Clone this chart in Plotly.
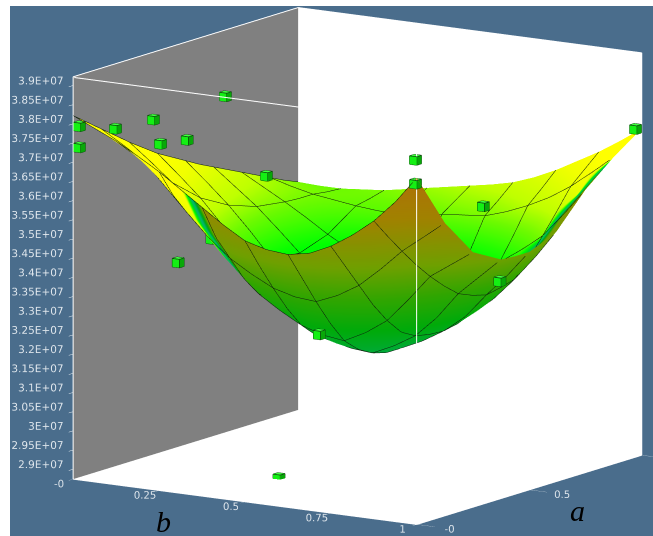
import plotly.graph_objects as go

a_values = [i / 16 for i in range(17)]
b_values = [j / 16 for j in range(17)]
Z_FLOOR = 2.874
Z_CEIL = 3.9225
Z_UNIT = 0.0025953
# surface rise above the floor of the z axis, in units of Z_UNIT (x 1E+07); rows = a, columns = b
surface_rise = [
 [365,355,345,333,320,305,290,275,262,256,254,258,268,282,299,321,348],
 [354,342,330,316,292,272,255,242,233,228,226,232,244,260,279,299,321],
 [343,330,316,293,270,248,230,217,206,200,198,207,220,239,260,277,294],
 [332,317,301,275,250,226,205,191,181,174,172,182,196,218,242,259,275],
 [321,304,286,264,233,208,186,172,160,153,150,161,176,200,226,241,256],
 [311,293,274,250,225,199,175,159,146,140,137,147,160,185,212,230,248],
 [301,282,262,238,212,186,166,150,136,131,129,139,152,173,200,220,240],
 [293,274,254,230,204,178,160,145,131,127,125,136,149,168,194,216,239],
 [285,266,246,223,198,173,155,141,129,126,125,135,148,165,190,213,239],
 [277,259,241,219,196,173,155,143,133,131,133,139,151,168,193,218,245],
 [270,253,236,216,195,174,155,145,140,138,140,146,157,174,197,223,252],
 [263,248,234,217,200,182,167,157,151,151,154,163,175,193,213,240,268],
 [256,244,232,219,205,193,183,176,172,174,178,188,200,215,232,257,284],
 [249,240,231,223,215,208,201,199,198,200,203,212,223,236,252,273,296],
 [242,236,231,228,225,223,222,224,228,230,232,239,248,259,273,290,308],
 [235,232,229,229,228,229,231,234,238,241,244,252,261,273,286,301,318],
 [229,228,228,230,232,236,240,244,248,252,257,265,275,287,299,313,328],
]
surface_z = [[Z_FLOOR + v * Z_UNIT for v in row] for row in surface_rise]
# how many leading b columns of every a row are seen from above
front_counts = [6,6,6,6,6,7,8,9,10,11,13,14,15,16,17,17,17]
Z_MID = 3.1
surface_tone = [[(z - Z_MID) if j < front_counts[i] else -(z - Z_MID) for j, z in enumerate(row)]
                for i, row in enumerate(surface_z)]

pt_a = [0.011,0.011,0.011,0.34,0.011,0.49,0.66,0.45,0.5,0.011,0.011,0.85,0.386,0.011,0.281,0.989,0.6]
pt_b = [0.011,0.011,0.116,0.011,0.247,0.011,0.011,0.011,0.235,0.989,0.989,0.637,0.989,0.709,0.415,0.989,0.011]
pt_z = [3.793,3.738,3.799,3.751,3.775,3.671,3.754,3.359,3.602,3.821,3.759,3.507,3.437,3.333,2.875,3.725,3.393]

z_ticks = [2.9 + 0.05 * i for i in range(21)]
z_labels = ["2.9E+07","2.95E+07","3E+07","3.05E+07","3.1E+07","3.15E+07","3.2E+07","3.25E+07","3.3E+07","3.35E+07","3.4E+07","3.45E+07","3.5E+07","3.55E+07","3.6E+07","3.65E+07","3.7E+07","3.75E+07","3.8E+07","3.85E+07","3.9E+07"]
b_ticks = [0, 0.25, 0.5, 0.75, 1]
b_labels = ["-0", "0.25", "0.5", "0.75", "1"]
a_ticks = [0, 0.5, 1]
a_labels = ["-0", "0.5", "1"]

BG = "#4a6d8c"
tone_scale = [
 [-0.73, "#b4690a"], [-0.55, "#a08200"], [-0.40, "#6ea000"], [-0.30, "#32a500"], [-0.20, "#00aa0a"], [-0.10, "#00aa3c"],
 [0, "#00b46e"], [0.1, "#00be5a"], [0.2, "#00dc14"], [0.29, "#00ff00"], [0.37, "#6efa00"], [0.42, "#beff00"],
 [0.50, "#f0ff00"], [0.55, "#ffff00"], [0.73, "#ffff00"],
]
lo, hi = -0.73, 0.73
colorscale = [[(v - lo) / (hi - lo), c] for v, c in tone_scale]
LINE = "#0d1f0d"
FLAT = dict(ambient=1, diffuse=0, specular=0, roughness=1, fresnel=0)

fig = go.Figure()
fig.add_trace(go.Surface(
    x=b_values, y=a_values, z=surface_z, surfacecolor=surface_tone,
    colorscale=colorscale, cmin=lo, cmax=hi, showscale=False, lighting=FLAT,
    contours=dict(
        x=dict(show=True, start=0, end=1, size=0.125, color=LINE, width=1),
        y=dict(show=True, start=0, end=1, size=0.125, color=LINE, width=1),
    ),
))

ZR = Z_CEIL - Z_FLOOR
hx, hy, hz = 0.0105, 0.0105, 0.0105 * ZR
vx, vy, vz, fi, fj, fk, fc, ex, ey, ez = [], [], [], [], [], [], [], [], [], []
corner = [(-1,-1,-1),(1,-1,-1),(1,1,-1),(-1,1,-1),(-1,-1,1),(1,-1,1),(1,1,1),(-1,1,1)]
quads = [((0,1,5,4),"#14f014"),((1,2,6,5),"#08a808"),((4,5,6,7),"#40ff40"),((0,3,7,4),"#08a808"),((3,2,6,7),"#08a808"),((0,1,2,3),"#08a808")]
edges = [(0,1),(1,2),(2,3),(3,0),(4,5),(5,6),(6,7),(7,4),(0,4),(1,5),(2,6),(3,7)]
for pa, pb, pz in zip(pt_a, pt_b, pt_z):
    n = len(vx)
    pts = [(pb + sx * hx, pa + sy * hy, pz + sz * hz) for sx, sy, sz in corner]
    for p in pts:
        vx.append(p[0]); vy.append(p[1]); vz.append(p[2])
    for (q0, q1, q2, q3), col in quads:
        fi += [n + q0, n + q0]; fj += [n + q1, n + q2]; fk += [n + q2, n + q3]; fc += [col, col]
    for e0, e1 in edges:
        for idx in (e0, e1):
            ex.append(pts[idx][0]); ey.append(pts[idx][1]); ez.append(pts[idx][2])
        ex.append(None); ey.append(None); ez.append(None)
fig.add_trace(go.Mesh3d(x=vx, y=vy, z=vz, i=fi, j=fj, k=fk, facecolor=fc, flatshading=True, lighting=FLAT))
fig.add_trace(go.Scatter3d(x=ex, y=ey, z=ez, mode="lines", line=dict(color="#0a3a0a", width=1.5)))

# near edges of the box, just inside its bounds
INSET = 0.002
fig.add_trace(go.Scatter3d(x=[INSET, 1 - INSET, 1 - INSET], y=[INSET, INSET, INSET],
                           z=[Z_CEIL - INSET, Z_CEIL - INSET, Z_FLOOR + INSET], mode="lines",
                           line=dict(color="white", width=2)))
# z tick labels, right aligned next to the axis, lifted a little above their ticks
LABEL_LIFT = 0.013
fig.add_trace(go.Scatter3d(x=[0] * len(z_ticks), y=[0] * len(z_ticks), z=[t + LABEL_LIFT for t in z_ticks],
                           mode="text", text=z_labels, textposition="middle left",
                           textfont=dict(family="DejaVu Sans", size=10.5, color="#dfe6ec")))

def axis(**kw):
    d = dict(showgrid=False, zeroline=False, showspikes=False, showline=True, linecolor="white", linewidth=2,
             mirror=True, ticks="outside", ticklen=25, tickcolor="#e8eef2", tickwidth=1, title=dict(text=""),
             tickangle=0, tickfont=dict(family="DejaVu Sans", size=11, color="#dfe6ec"), showbackground=True, tickmode="array")
    d.update(kw)
    return d

L = 1.7
S = 1.55
cx, cy, cz = -0.0800, -0.0569, -0.0185
fig.update_layout(
    width=653, height=536, autosize=False, showlegend=False,
    margin=dict(l=10, r=0, t=6, b=0), paper_bgcolor="white",
    scene=dict(
        bgcolor=BG, aspectmode="manual", aspectratio=dict(x=S, y=S, z=S),
        domain=dict(x=[0, 1], y=[0, 1]),
        xaxis=axis(range=[0, 1], tickvals=b_ticks, ticktext=b_labels, ticklen=21, backgroundcolor="#808080"),
        yaxis=axis(range=[0, 1], tickvals=a_ticks, ticktext=a_labels, ticklen=8, backgroundcolor="white"),
        zaxis=axis(range=[Z_FLOOR, Z_CEIL], tickvals=z_ticks, ticktext=z_labels, showticklabels=False, backgroundcolor="white"),
        camera=dict(projection=dict(type="orthographic"), up=dict(x=0, y=0, z=1), center=dict(x=cx, y=cy, z=cz),
                    eye=dict(x=cx + 0.5364 * L, y=cy - 0.8194 * L, z=cz + 0.2014 * L)),
    ),
    annotations=[
        dict(text="<i>b</i>", x=153 / 643, y=(536 - 521) / 530, xref="paper", yref="paper", showarrow=False,
             xanchor="center", yanchor="middle", font=dict(family="Liberation Serif", size=30, color="black")),
        dict(text="<i>a</i>", x=567 / 643, y=(536 - 510) / 530, xref="paper", yref="paper", showarrow=False,
             xanchor="center", yanchor="middle", font=dict(family="Liberation Serif", size=30, color="black")),
    ],
)
fig.write_html("out.html", config=dict(displayModeBar=False), post_script="document.body.style.margin='0';")
